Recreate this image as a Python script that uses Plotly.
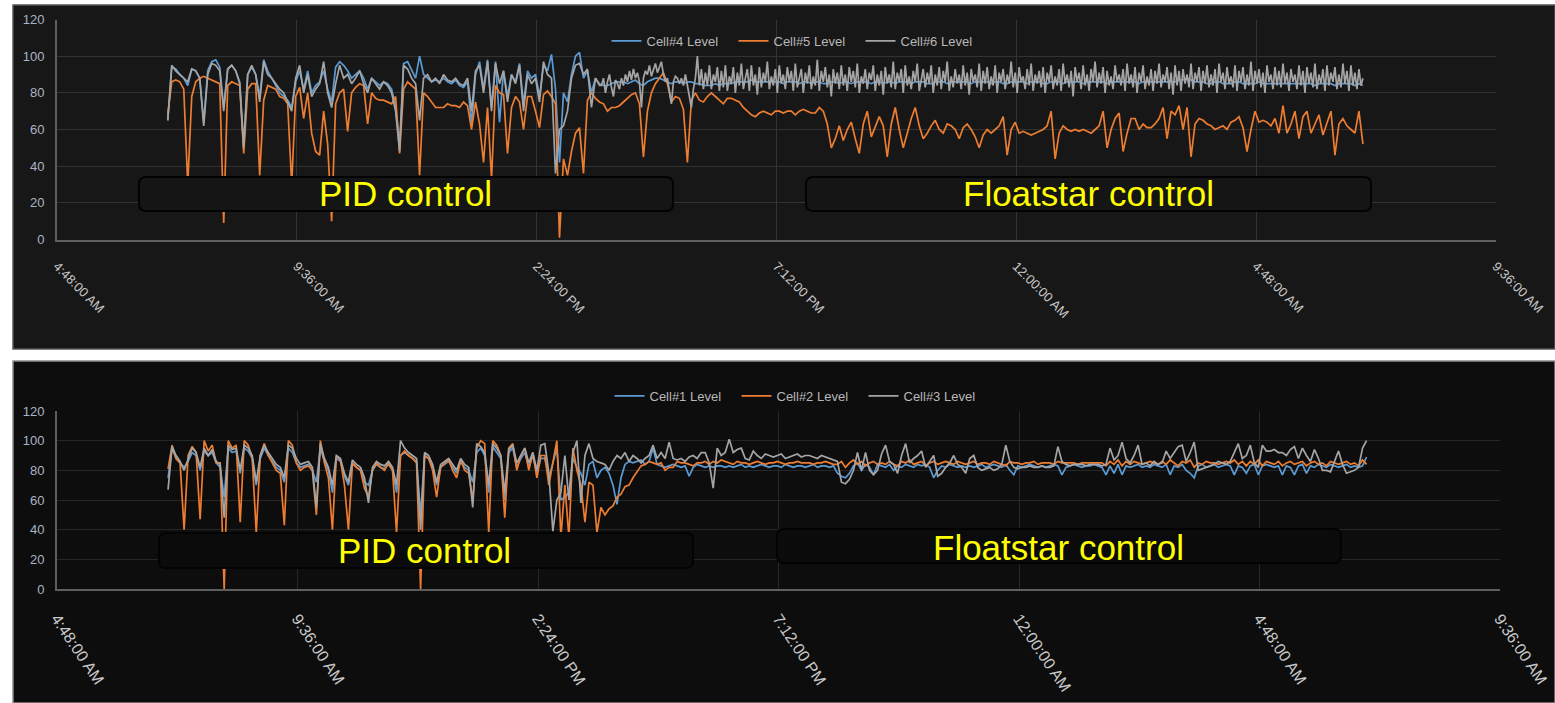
import pandas as pd
import plotly.graph_objects as go

W, H = 1555, 703

# ---------------- data ----------------
times = pd.date_range("2019-05-01 07:01:00", periods=300, freq="288s")
# Cell#6 is sampled more finely after the switch to Floatstar control
times6_pid = pd.date_range("2019-05-01 07:01:00", periods=109, freq="288s")
times6_float = pd.date_range("2019-05-01 15:41:48", periods=382, freq="144s")

tick_vals = pd.date_range("2019-05-01 04:48:00", periods=7, freq="288min")
tick_text = ["4:48:00 AM", "9:36:00 AM", "2:24:00 PM", "7:12:00 PM",
             "12:00:00 AM", "4:48:00 AM", "9:36:00 AM"]
y_ticks = [0, 20, 40, 60, 80, 100, 120]

top_names = ["Cell#4 Level", "Cell#5 Level", "Cell#6 Level"]
bot_names = ["Cell#1 Level", "Cell#2 Level", "Cell#3 Level"]

cell4 = [
    65, 94, 93, 90, 88, 84, 93, 92, 88, 64, 92, 97, 98, 94, 72, 93, 95, 92, 86, 52,
    90, 94, 90, 78, 98, 92, 88, 84, 80, 78, 76, 72, 86, 92, 82, 92, 80, 84, 86, 92,
    82, 75, 94, 97, 95, 92, 88, 90, 92, 88, 82, 88, 86, 84, 86, 85, 82, 72, 52, 96,
    97, 92, 88, 100, 90, 88, 86, 87, 86, 88, 86, 85, 87, 84, 83, 86, 63, 90, 97, 82,
    98, 72, 97, 64, 92, 78, 90, 86, 96, 74, 92, 88, 90, 78, 95, 92, 101, 82, 42, 80,
    75, 90, 100, 102, 88, 92, 80, 88, 85, 84, 84, 85, 86, 86, 86, 85, 86, 87, 85, 84,
    86, 87, 88, 88, 87, 86, 85, 86, 86, 85, 86, 86, 85, 85, 84, 84, 84, 85, 84, 85,
    85, 85, 86, 86, 86, 86, 87, 86, 86, 86, 86, 86, 86, 86, 85, 86, 86, 86, 85, 86,
    86, 85, 86, 86, 85, 85, 86, 86, 85, 86, 86, 85, 86, 86, 86, 86, 85, 86, 86, 85,
    86, 86, 85, 86, 86, 86, 85, 86, 86, 86, 85, 85, 86, 86, 86, 85, 86, 86, 86, 86,
    86, 85, 86, 86, 86, 86, 85, 86, 86, 85, 85, 86, 86, 86, 86, 85, 86, 86, 86, 85,
    85, 86, 86, 86, 85, 86, 86, 86, 86, 85, 86, 86, 86, 86, 86, 85, 86, 86, 86, 86,
    86, 86, 86, 85, 86, 86, 86, 86, 86, 86, 86, 86, 86, 87, 87, 88, 87, 86, 86, 86,
    85, 85, 86, 86, 85, 85, 85, 86, 86, 85, 85, 85, 85, 86, 85, 85, 85, 85, 85, 85,
    85, 85, 85, 85, 85, 85, 85, 84, 85, 85, 85, 85, 84, 85, 85, 85, 85, 84, 85, 84,
]

cell5 = [
    68, 86, 87, 86, 82, 30, 78, 86, 88, 89, 88, 87, 86, 85, 9, 84, 86, 85, 84, 47,
    82, 85, 85, 35, 76, 84, 83, 82, 78, 77, 74, 30, 78, 83, 66, 80, 58, 48, 46, 70,
    52, 10, 74, 80, 82, 59, 80, 83, 85, 84, 63, 80, 77, 76, 76, 75, 74, 78, 47, 82,
    86, 84, 82, 35, 80, 78, 75, 72, 72, 72, 74, 73, 73, 72, 75, 73, 60, 75, 63, 42,
    72, 33, 84, 80, 79, 47, 72, 78, 75, 60, 78, 78, 70, 61, 79, 81, 78, 74, 1, 44,
    35, 48, 58, 61, 36, 76, 80, 77, 75, 74, 70, 72, 72, 73, 75, 77, 79, 80, 74, 45,
    70, 80, 85, 88, 91, 85, 75, 78, 77, 71, 42, 76, 80, 76, 75, 78, 80, 78, 76, 74,
    77, 77, 76, 75, 72, 70, 68, 67, 69, 70, 69, 68, 70, 70, 69, 70, 70, 68, 70, 71,
    70, 69, 69, 72, 70, 63, 50, 55, 62, 54, 60, 64, 55, 47, 63, 70, 56, 62, 67, 62,
    45, 63, 72, 60, 50, 58, 66, 72, 62, 55, 58, 62, 65, 60, 58, 63, 62, 60, 55, 61,
    63, 60, 56, 50, 57, 60, 58, 60, 62, 67, 46, 60, 64, 58, 59, 58, 57, 58, 59, 60,
    62, 70, 44, 58, 62, 60, 59, 60, 59, 60, 59, 58, 60, 62, 70, 50, 60, 66, 69, 48,
    58, 66, 66, 60, 63, 61, 61, 63, 66, 72, 55, 70, 68, 73, 60, 72, 45, 63, 66, 65,
    63, 62, 60, 61, 62, 60, 64, 65, 67, 61, 48, 60, 70, 64, 65, 64, 62, 66, 58, 73,
    58, 63, 70, 55, 67, 70, 58, 63, 68, 57, 64, 70, 46, 63, 66, 62, 60, 58, 70, 52,
]

cell6_pid = [
    65, 95, 92, 90, 88, 86, 93, 92, 88, 62, 90, 96, 95, 92, 70, 93, 95, 92, 85, 50,
    90, 95, 90, 75, 97, 90, 88, 85, 82, 80, 75, 70, 88, 95, 80, 90, 78, 82, 85, 97,
    80, 72, 85, 95, 88, 90, 85, 88, 92, 85, 80, 88, 85, 82, 86, 84, 80, 70, 48, 95,
    93, 88, 85, 65, 88, 90, 86, 88, 85, 90, 87, 86, 88, 85, 84, 88, 70, 92, 95, 80,
    97, 70, 96, 85, 92, 75, 90, 85, 95, 70, 90, 85, 88, 75, 97, 90, 88, 36, 60, 62,
    70, 88, 95, 96, 90, 93, 72, 88, 84,
]

cell6_float = [
    84, 88, 80, 86, 90, 83, 78, 87, 85, 82, 88, 84, 90, 86, 92, 87, 93, 88, 91, 86,
    72, 88, 92, 90, 95, 89, 93, 96, 91, 94, 97, 90, 86, 88, 80, 74, 86, 89, 88, 85,
    88, 84, 90, 84, 80, 72, 82, 88, 100, 84, 93, 82, 91, 84, 95, 82, 90, 86, 94, 81,
    92, 83, 95, 81, 89, 85, 94, 80, 91, 84, 96, 82, 88, 93, 81, 95, 84, 90, 79, 94,
    83, 91, 86, 97, 82, 89, 84, 93, 80, 95, 85, 90, 82, 94, 86, 92, 81, 96, 83, 88,
    93, 80, 91, 85, 95, 82, 89, 84, 98, 81, 92, 86, 94, 83, 90, 78, 93, 85, 91, 82,
    95, 84, 90, 81, 94, 86, 92, 83, 96, 80, 89, 85, 93, 82, 91, 87, 95, 81, 90, 84,
    92, 79, 94, 85, 90, 83, 97, 82, 91, 86, 93, 80, 95, 84, 89, 82, 92, 86, 96, 81,
    88, 93, 83, 91, 85, 95, 80, 90, 84, 94, 82, 92, 86, 97, 81, 89, 83, 93, 85, 90,
    82, 95, 84, 91, 79, 93, 86, 90, 83, 96, 81, 92, 85, 94, 82, 89, 84, 95, 80, 91,
    86, 93, 82, 90, 85, 97, 83, 91, 80, 94, 86, 89, 82, 93, 84, 96, 81, 90, 85, 92,
    83, 94, 80, 91, 86, 95, 82, 89, 84, 93, 81, 96, 85, 90, 83, 92, 78, 94, 86, 91,
    82, 95, 84, 90, 81, 93, 86, 97, 83, 91, 85, 94, 80, 92, 84, 89, 82, 95, 86, 90,
    84, 93, 81, 96, 85, 90, 83, 94, 80, 91, 86, 95, 82, 89, 84, 93, 81, 92, 85, 96,
    83, 90, 86, 94, 82, 91, 79, 95, 84, 92, 81, 93, 85, 90, 83, 96, 82, 91, 86, 94,
    81, 92, 85, 95, 83, 90, 84, 93, 80, 96, 86, 91, 82, 94, 85, 89, 83, 95, 81, 92,
    86, 94, 82, 90, 84, 97, 81, 92, 85, 93, 83, 91, 80, 95, 86, 90, 82, 94, 84, 92,
    83, 96, 85, 91, 81, 93, 86, 90, 82, 95, 84, 92, 80, 94, 85, 91, 83, 96, 82, 90,
    85, 93, 81, 95, 84, 91, 86, 94, 82, 90, 83, 96, 85, 92, 81, 95, 84, 91, 82, 93,
    84, 88,
]

cell1 = [
    75, 95, 88, 85, 82, 86, 92, 90, 80, 93, 90, 92, 85, 82, 62, 95, 92, 93, 78, 95,
    93, 88, 70, 88, 95, 90, 86, 82, 80, 72, 95, 92, 85, 82, 83, 84, 80, 72, 95, 86,
    80, 65, 88, 86, 76, 70, 85, 82, 80, 72, 70, 80, 84, 82, 81, 84, 80, 65, 90, 92,
    90, 88, 86, 50, 90, 88, 82, 70, 82, 84, 86, 82, 78, 86, 82, 80, 72, 92, 95, 90,
    65, 96, 92, 88, 60, 92, 95, 82, 88, 92, 82, 90, 78, 88, 88, 75, 85, 95, 60, 62,
    65, 88, 82, 78, 70, 84, 86, 75, 80, 82, 78, 70, 57, 75, 84, 86, 85, 86, 87, 84,
    86, 95, 84, 83, 82, 83, 84, 83, 82, 83, 76, 82, 84, 83, 82, 83, 82, 83, 83, 82,
    83, 82, 83, 84, 82, 83, 82, 83, 84, 83, 82, 83, 83, 82, 84, 83, 82, 83, 83, 82,
    83, 84, 82, 83, 83, 82, 83, 78, 76, 75, 78, 83, 85, 80, 84, 82, 77, 84, 83, 82,
    84, 80, 83, 82, 84, 83, 82, 84, 83, 84, 82, 75, 80, 83, 82, 84, 83, 82, 83, 82,
    83, 82, 83, 84, 82, 83, 84, 83, 82, 84, 80, 77, 83, 82, 83, 84, 83, 82, 83, 82,
    83, 84, 83, 77, 82, 83, 84, 83, 82, 83, 83, 84, 83, 82, 77, 83, 78, 84, 77, 83,
    82, 83, 84, 82, 83, 82, 84, 83, 82, 84, 77, 83, 82, 84, 80, 78, 75, 83, 84, 82,
    83, 84, 82, 83, 84, 83, 77, 83, 82, 78, 83, 84, 77, 83, 84, 83, 82, 83, 77, 83,
    82, 77, 83, 84, 78, 83, 82, 84, 83, 82, 84, 83, 82, 83, 84, 82, 83, 82, 83, 89,
]

cell2 = [
    81, 97, 88, 85, 40, 90, 96, 92, 47, 100, 93, 97, 85, 85, 0, 100, 95, 97, 45, 100,
    97, 88, 38, 90, 98, 90, 85, 80, 78, 43, 100, 97, 85, 80, 82, 83, 80, 50, 100, 85,
    75, 40, 90, 87, 70, 40, 85, 82, 80, 68, 62, 80, 85, 82, 80, 85, 80, 38, 90, 93,
    90, 88, 85, 0, 90, 88, 80, 62, 82, 85, 87, 80, 75, 87, 80, 78, 60, 95, 100, 98,
    38, 100, 97, 90, 48, 95, 98, 80, 90, 95, 80, 92, 75, 90, 90, 70, 85, 100, 35, 70,
    35, 95, 80, 70, 45, 72, 70, 38, 55, 50, 54, 56, 62, 64, 69, 70, 75, 79, 83, 84,
    86, 85, 84, 85, 80, 82, 82, 86, 85, 85, 84, 83, 85, 85, 86, 84, 86, 85, 87, 86,
    85, 84, 86, 85, 85, 84, 85, 86, 85, 84, 85, 85, 86, 85, 84, 85, 85, 86, 85, 85,
    85, 84, 85, 85, 86, 85, 84, 84, 86, 82, 85, 87, 84, 86, 83, 85, 86, 84, 85, 84,
    86, 84, 83, 86, 85, 87, 84, 85, 86, 83, 85, 86, 84, 85, 86, 85, 84, 86, 85, 84,
    85, 86, 84, 85, 85, 84, 86, 85, 84, 83, 86, 85, 85, 84, 85, 85, 86, 84, 85, 85,
    85, 84, 86, 85, 85, 85, 85, 84, 85, 85, 85, 85, 85, 85, 83, 86, 84, 87, 83, 86,
    84, 86, 85, 84, 85, 86, 85, 84, 86, 84, 87, 85, 83, 86, 85, 87, 82, 85, 84, 86,
    85, 85, 84, 85, 86, 85, 87, 84, 86, 83, 86, 84, 87, 83, 86, 85, 84, 86, 83, 85,
    86, 84, 85, 86, 83, 85, 86, 84, 85, 83, 86, 85, 84, 85, 86, 84, 85, 83, 87, 84,
]

cell3 = [
    67, 96, 90, 86, 80, 88, 95, 92, 82, 95, 90, 94, 86, 84, 48, 97, 94, 95, 80, 97,
    95, 90, 72, 90, 97, 92, 88, 84, 82, 75, 97, 95, 88, 84, 85, 86, 82, 55, 98, 88,
    82, 70, 90, 88, 78, 72, 87, 84, 82, 75, 58, 82, 86, 84, 83, 86, 82, 70, 100, 95,
    92, 90, 88, 40, 92, 90, 84, 72, 84, 86, 88, 84, 80, 88, 84, 82, 55, 98, 96, 92,
    70, 98, 95, 90, 65, 94, 97, 85, 90, 95, 85, 92, 80, 97, 98, 78, 39, 60, 65, 90,
    60, 92, 100, 58, 90, 98, 88, 86, 85, 84, 80, 86, 90, 88, 92, 86, 90, 88, 85, 88,
    90, 97, 88, 92, 88, 99, 88, 87, 88, 86, 89, 90, 88, 92, 92, 85, 68, 95, 90, 92,
    101, 92, 94, 95, 88, 87, 93, 90, 88, 91, 90, 89, 90, 91, 88, 89, 90, 91, 89, 90,
    90, 89, 88, 90, 89, 88, 87, 86, 72, 71, 74, 80, 92, 80, 92, 80, 77, 80, 91, 97,
    86, 84, 78, 90, 98, 85, 88, 90, 93, 82, 86, 90, 76, 78, 82, 85, 90, 84, 82, 78,
    88, 90, 82, 80, 81, 82, 80, 81, 84, 97, 86, 82, 81, 82, 82, 83, 82, 82, 83, 82,
    82, 83, 96, 86, 84, 83, 84, 84, 84, 83, 84, 84, 84, 83, 84, 95, 87, 90, 99, 88,
    85, 90, 97, 84, 85, 83, 86, 84, 85, 93, 88, 92, 96, 97, 86, 92, 99, 80, 81, 82,
    83, 84, 86, 85, 84, 86, 92, 98, 88, 90, 97, 85, 82, 97, 93, 93, 94, 92, 92, 90,
    94, 96, 88, 95, 90, 86, 94, 88, 80, 80, 79, 86, 93, 84, 78, 79, 80, 82, 95, 100,
]

colors = ["#5b9bd5", "#ed7d31", "#a5a5a5"]
annot_texts = ["PID control", "Floatstar control", "PID control", "Floatstar control"]

# ---------------- helpers (pixel -> paper) ----------------
def px(x):
    return x / W

def py(y):
    return 1 - y / H

def rrect(x0, y0, x1, y1, r=7):
    pts = [("M", x0 + r, y0), ("L", x1 - r, y0), ("Q", x1, y0, x1, y0 + r),
           ("L", x1, y1 - r), ("Q", x1, y1, x1 - r, y1), ("L", x0 + r, y1),
           ("Q", x0, y1, x0, y1 - r), ("L", x0, y0 + r), ("Q", x0, y0, x0 + r, y0)]
    s = ""
    for p in pts:
        cmd = p[0]
        coords = p[1:]
        parts = []
        for i in range(0, len(coords), 2):
            parts.append(f"{px(coords[i]):.5f},{py(coords[i+1]):.5f}")
        s += cmd + " " + " ".join(parts) + " "
    return s + "Z"

fig = go.Figure()

top_x = [list(times), list(times), list(times6_pid) + list(times6_float)]
top_y = [cell4, cell5, cell6_pid + cell6_float]
for xs, vals, name, col in zip(top_x, top_y, top_names, colors):
    fig.add_trace(go.Scatter(x=xs, y=vals, name=name, mode="lines",
                             line=dict(color=col, width=1.7), xaxis="x", yaxis="y",
                             legend="legend"))
for vals, name, col in zip([cell1, cell2, cell3], bot_names, colors):
    fig.add_trace(go.Scatter(x=times, y=vals, name=name, mode="lines",
                             line=dict(color=col, width=1.7), xaxis="x2", yaxis="y2",
                             legend="legend2"))

xrange = [tick_vals[0], tick_vals[-1]]

def xaxis_cfg(domain, anchor, grid, angle, size):
    return dict(domain=domain, anchor=anchor, type="date", range=xrange,
                tickmode="array", tickvals=list(tick_vals), ticktext=tick_text,
                tickangle=angle, tickfont=dict(family="Liberation Sans", size=size, color="#c8c8c8"),
                showgrid=True, gridcolor=grid, gridwidth=1, showline=True,
                linecolor="#5e5e5e", linewidth=2, ticks="", zeroline=False,
                ticklabelstandoff=12, automargin=False)

def yaxis_cfg(domain, anchor, grid):
    return dict(domain=domain, anchor=anchor, range=[0, 120], tickmode="array",
                tickvals=y_ticks, tickfont=dict(family="Liberation Sans", size=13, color="#a9b4c4"),
                showgrid=True, gridcolor=grid, gridwidth=1, showline=True,
                linecolor="#5e5e5e", linewidth=2, ticks="", zeroline=False,
                ticklabelstandoff=8, automargin=False)

shapes = [
    dict(type="rect", xref="paper", yref="paper", x0=px(13), x1=px(1555), y0=py(349), y1=py(5),
         fillcolor="#171717", line=dict(color="#555555", width=1.5), layer="below"),
    dict(type="rect", xref="paper", yref="paper", x0=px(13), x1=px(1555), y0=py(703), y1=py(361),
         fillcolor="#0d0d0d", line=dict(color="#8a8a8a", width=1.5), layer="below"),
]
boxes = [(139, 177, 673, 211, "#151515"), (806, 177, 1371, 211, "#151515"),
         (159, 533, 693, 568, "#0b0b0b"), (777, 529, 1341, 563, "#0b0b0b")]
for b in boxes:
    shapes.append(dict(type="path", xref="paper", yref="paper", path=rrect(*b[:4]),
                       fillcolor=b[4], line=dict(color="#030303", width=2), layer="above"))

text_pos = [(405, 194), (1088, 194), (424, 550), (1058, 547)]
annotations = []
for t, (tx, ty) in zip(annot_texts, text_pos):
    annotations.append(dict(text=t, x=px(tx), y=py(ty), xref="paper", yref="paper",
                            showarrow=False, xanchor="center", yanchor="middle",
                            font=dict(family="Liberation Sans", size=35, color="#ffff00")))

legend_font = dict(family="Liberation Sans", size=13, color="#b8b8b8")
fig.update_layout(
    width=W, height=H, margin=dict(l=0, r=0, t=0, b=0, autoexpand=False),
    paper_bgcolor="white", plot_bgcolor="rgba(0,0,0,0)",
    xaxis=xaxis_cfg([px(57), px(1496)], "y", "#333333", 45, 13),
    yaxis=yaxis_cfg([py(239.5), py(19.5)], "x", "#333333"),
    xaxis2=xaxis_cfg([px(57), px(1500)], "y2", "#262626", 56, 16),
    yaxis2=yaxis_cfg([py(589), py(411)], "x2", "#262626"),
    legend=dict(orientation="h", x=px(797), y=py(41), xanchor="center", yanchor="middle",
                bgcolor="rgba(0,0,0,0)", font=legend_font, itemwidth=30,
                entrywidth=82, entrywidthmode="pixels"),
    legend2=dict(orientation="h", x=px(800), y=py(396), xanchor="center", yanchor="middle",
                 bgcolor="rgba(0,0,0,0)", font=legend_font, itemwidth=30,
                 entrywidth=82, entrywidthmode="pixels"),
    shapes=shapes, annotations=annotations, showlegend=True,
)

fig.write_html("out.html",
               config={"displayModeBar": False},
               post_script="document.documentElement.style.margin='0';"
                           "document.body.style.margin='0';"
                           "document.body.style.overflow='hidden';")
